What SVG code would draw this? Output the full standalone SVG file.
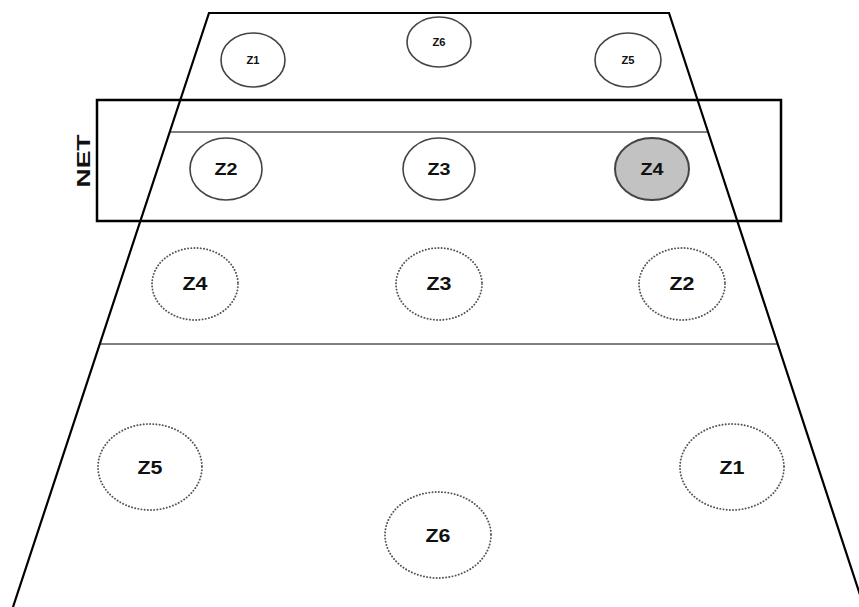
<svg xmlns="http://www.w3.org/2000/svg" width="859" height="607" viewBox="0 0 859 607">
<style>
text{font-family:"Liberation Sans",Arial,sans-serif;font-weight:bold;fill:#111;text-anchor:middle}
.court{fill:none;stroke:#000;stroke-width:2.2}
.thin{stroke:#000;stroke-width:1}
.net{fill:none;stroke:#000;stroke-width:2.5}
.solid{fill:#fff;stroke:#444;stroke-width:1.6}
.act{fill:#c2c2c2;stroke:#444;stroke-width:2}
.dot{fill:none;stroke:#555;stroke-width:1.9;stroke-dasharray:0.1 3.1;stroke-linecap:round}
.s{font-size:10px}
.m{font-size:17px}
.l{font-size:18px}
.xl{font-size:19px}
</style>
<rect width="859" height="607" fill="#fff"/>
<g id="connectors">
<polyline class="court" points="13,607 209,13 669,13 864,607"/>
<line class="thin" x1="170" y1="132" x2="708" y2="132"/>
<line class="thin" x1="100" y1="344" x2="778" y2="344"/>
<rect class="net" x="97" y="100" width="684" height="121"/>
</g>
<g id="net-label"><text class="xl" transform="translate(90,161) rotate(-90)" textLength="53" lengthAdjust="spacingAndGlyphs">NET</text></g>
<g id="opp-z1"><ellipse class="solid" cx="253" cy="60" rx="32" ry="27"/><text class="s" x="253" y="64" textLength="13" lengthAdjust="spacingAndGlyphs">Z1</text></g>
<g id="opp-z6"><ellipse class="solid" cx="439" cy="42" rx="32" ry="25"/><text class="s" x="439" y="46" textLength="13" lengthAdjust="spacingAndGlyphs">Z6</text></g>
<g id="opp-z5"><ellipse class="solid" cx="628" cy="60" rx="33" ry="27"/><text class="s" x="628" y="64" textLength="13" lengthAdjust="spacingAndGlyphs">Z5</text></g>
<g id="net-z2"><ellipse class="solid" cx="226" cy="169" rx="36" ry="31"/><text class="m" x="226" y="175" textLength="23" lengthAdjust="spacingAndGlyphs">Z2</text></g>
<g id="net-z3"><ellipse class="solid" cx="439" cy="169" rx="36" ry="31"/><text class="m" x="439" y="175" textLength="23" lengthAdjust="spacingAndGlyphs">Z3</text></g>
<g id="net-z4"><ellipse class="act" cx="652" cy="169" rx="37" ry="31"/><text class="m" x="652" y="175" textLength="23" lengthAdjust="spacingAndGlyphs">Z4</text></g>
<g id="mid-z4"><ellipse class="dot" cx="195" cy="284" rx="43" ry="36"/><text class="l" x="195" y="290" textLength="25" lengthAdjust="spacingAndGlyphs">Z4</text></g>
<g id="mid-z3"><ellipse class="dot" cx="439" cy="284" rx="43" ry="36"/><text class="l" x="439" y="290" textLength="25" lengthAdjust="spacingAndGlyphs">Z3</text></g>
<g id="mid-z2"><ellipse class="dot" cx="682" cy="284" rx="43" ry="36"/><text class="l" x="682" y="290" textLength="25" lengthAdjust="spacingAndGlyphs">Z2</text></g>
<g id="back-z5"><ellipse class="dot" cx="150" cy="467" rx="52" ry="43"/><text class="l" x="150" y="474" textLength="25" lengthAdjust="spacingAndGlyphs">Z5</text></g>
<g id="back-z1"><ellipse class="dot" cx="732" cy="467" rx="52" ry="43"/><text class="l" x="732" y="474" textLength="25" lengthAdjust="spacingAndGlyphs">Z1</text></g>
<g id="back-z6"><ellipse class="dot" cx="438" cy="535" rx="53" ry="43"/><text class="l" x="438" y="542" textLength="25" lengthAdjust="spacingAndGlyphs">Z6</text></g>
</svg>
